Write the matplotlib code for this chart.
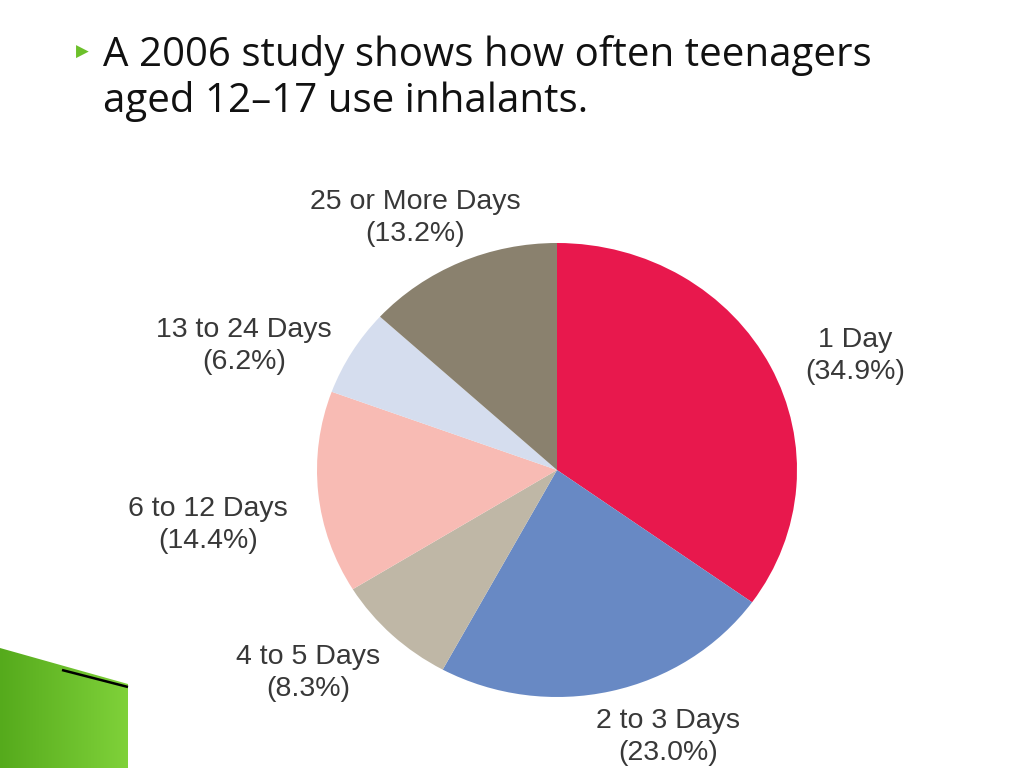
import numpy as np
import matplotlib
matplotlib.use("Agg")
import matplotlib.pyplot as plt
from matplotlib.patches import Polygon

# =========================
# DATA
# =========================

categories = ["1 Day", "2 to 3 Days", "4 to 5 Days",
              "6 to 12 Days", "13 to 24 Days", "25 or More Days"]
shares = [34.9, 23.0, 8.3, 14.4, 6.2, 13.2]
colors = ["#E8184D", "#6889C4", "#BFB7A6", "#F8BBB4", "#D5DDEE", "#8A816E"]

title_lines = ["A 2006 study shows how often teenagers",
               "aged 12\u201317 use inhalants."]

# label centres in pie-radius units (x, y)
label_pos = [(1.242, 0.502), (0.4625, -1.176), (-1.0375, -0.894),
             (-1.454, -0.242), (-1.304, 0.546), (-0.592, 1.108)]

W, H = 1024, 768
CX, CY = 557, 470      # pie centre in pixels (from top)
RX, RY = 240, 227      # pie radii in pixels

fig = plt.figure(figsize=(W / 100, H / 100), dpi=100)
fig.patch.set_facecolor("white")

# =========================
# PIE
# =========================

ax = fig.add_axes([0, 0, 1, 1])
ax.pie(shares, colors=colors, startangle=90, counterclock=False,
       radius=1, wedgeprops=dict(linewidth=0))
ax.set_aspect("auto")
ax.set_xlim(-CX / RX, (W - CX) / RX)
ax.set_ylim(-(H - CY) / RY, CY / RY)
ax.axis("off")

for name, val, (lx, ly) in zip(categories, shares, label_pos):
    ax.text(lx, ly, f"{name}\n({val:.1f}%)", ha="center", va="center",
            fontsize=20.5, color="#383838", family="Liberation Sans",
            linespacing=1.3)

# =========================
# SLIDE TITLE
# =========================

fig.text(76 / W, 1 - 52 / H, "\u25B6", color="#6CC02A", fontsize=12,
         ha="left", va="center", family="DejaVu Sans")
for i, line in enumerate(title_lines):
    fig.text(103 / W, 1 - (66 + i * 46) / H, line, fontsize=29,
             color="#111111", family="Open Sans", ha="left", va="baseline")

# =========================
# GREEN CORNER SHAPE
# =========================

deco = fig.add_axes([0, 0, 130 / W, 125 / H])
deco.set_xlim(0, 130)
deco.set_ylim(768, 643)
deco.axis("off")
grad = np.linspace(0, 1, 256).reshape(1, -1)
img = deco.imshow(np.vstack([grad, grad]), extent=(0, 130, 768, 643),
                  cmap=matplotlib.colors.LinearSegmentedColormap.from_list(
                      "g", ["#55AA1C", "#80D23A"]), aspect="auto")
shape = Polygon([(0, 648), (128, 684), (128, 768), (0, 768)],
                closed=True, transform=deco.transData)
img.set_clip_path(shape)
deco.plot([62, 128], [670, 687], color="black", lw=1.8,
          solid_capstyle="butt")

fig.savefig("out.png", dpi=100)
